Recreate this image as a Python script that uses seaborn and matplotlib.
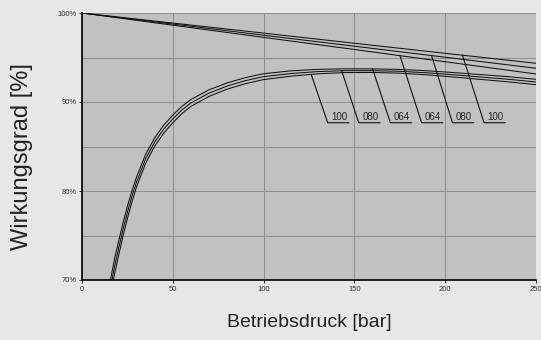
import numpy as np
import pandas as pd
import matplotlib
matplotlib.use("Agg")
import matplotlib.pyplot as plt
import seaborn as sns

# ---------------- data ----------------
# lower curves (rise, peak, slow fall)
P_LOW = [15.5, 16.5, 18, 20, 22.5, 25, 27.5, 30, 35, 40, 45, 50, 55, 60, 70, 80, 90,
         100, 115, 130, 145, 160, 175, 190, 205, 220, 235, 250]
E_LOW_064 = [69.8, 70.9, 72.45, 74.2, 76.35, 78.3, 80.02, 81.56, 84.1, 85.97, 87.4, 88.53,
             89.51, 90.29, 91.37, 92.15, 92.74, 93.18, 93.5, 93.67, 93.73, 93.72,
             93.66, 93.51, 93.3, 93.07, 92.84, 92.55]
E_LOW_080 = [68.9, 70.0, 71.6, 73.4, 75.6, 77.6, 79.4, 81.0, 83.6, 85.5, 86.95, 88.1,
             89.1, 89.9, 91.0, 91.8, 92.4, 92.85, 93.2, 93.42, 93.52, 93.52,
             93.45, 93.28, 93.05, 92.8, 92.55, 92.25]
E_LOW_100 = [68.0, 69.1, 70.75, 72.6, 74.85, 76.9, 78.78, 80.44, 83.1, 85.03, 86.5, 87.67,
             88.69, 89.51, 90.63, 91.45, 92.06, 92.52, 92.9, 93.17, 93.31, 93.32,
             93.24, 93.05, 92.8, 92.53, 92.26, 91.95]

# upper curves (falling from 100 %)
P_UP = [0, 50, 100, 150, 200, 250]
E_UP_100 = [100, 98.87, 97.74, 96.6, 95.47, 94.35]
E_UP_080 = [100, 98.76, 97.5, 96.27, 95.03, 93.79]
E_UP_064 = [100, 98.63, 97.26, 95.9, 94.52, 93.15]

# curve labels: text, curve, anchor pressure on curve, corner pressure
LABELS = ["100", "080", "064", "064", "080", "100"]
LABEL_CURVE = ["low100", "low080", "low064", "up064", "up080", "up100"]
LABEL_ANCHOR_P = [126.2, 143.0, 160.0, 175.1, 192.5, 209.5]
LABEL_CORNER_P = [135.3, 152.4, 169.8, 187.0, 204.0, 221.4]
LABEL_Y = 87.67

X_TICKS = [0, 50, 100, 150, 200, 250]
Y_TICKS = [70, 80, 90, 100]
Y_TICK_LABELS = ["70%", "80%", "90%", "100%"]

# ---------------- build table ----------------
curves = {
    "low064": (P_LOW, E_LOW_064), "low080": (P_LOW, E_LOW_080), "low100": (P_LOW, E_LOW_100),
    "up064": (P_UP, E_UP_064), "up080": (P_UP, E_UP_080), "up100": (P_UP, E_UP_100),
}
rows = []
for name, (ps, es) in curves.items():
    for i, (p, e) in enumerate(zip(ps, es)):
        rows.append({"curve": name, "order": i, "p": p, "eta": e})
df = pd.DataFrame(rows)

# ---------------- figure ----------------
sns.set_theme(style="white")
plt.rcParams["font.family"] = ["Liberation Sans", "DejaVu Sans"]

fig = plt.figure(figsize=(5.41, 3.40), dpi=100, facecolor="#e6e7e9")
ax = fig.add_axes([82 / 541, 1 - 280 / 340, 454 / 541, 267 / 340])
ax.set_facecolor("#c1c1c1")

sns.lineplot(data=df, x="p", y="eta", units="curve", estimator=None, sort=False,
             color="#111111", linewidth=0.75, ax=ax, legend=False)

# leader lines and labels
for lab, cname, pa, pc in zip(LABELS, LABEL_CURVE, LABEL_ANCHOR_P, LABEL_CORNER_P):
    ps, es = curves[cname]
    ya = np.interp(pa, ps, es)
    ax.plot([pa, pc, pc + 11.7], [ya, LABEL_Y, LABEL_Y], color="#111111", lw=0.8,
            solid_joinstyle="miter")
    ax.text(pc + 6.3, LABEL_Y + 0.12, lab, ha="center", va="bottom",
            fontsize=7, color="#222222")

ax.set_xlim(0, 250)
ax.set_ylim(70, 100)
ax.set_xticks(X_TICKS)
ax.set_xticklabels([str(t) for t in X_TICKS])
ax.set_yticks(Y_TICKS)
ax.set_yticklabels(Y_TICK_LABELS)
ax.set_yticks(np.arange(75, 100, 10), minor=True)
ax.grid(True, which="both", axis="y", color="#8e8e8e", lw=0.7)
ax.grid(True, which="major", axis="x", color="#8e8e8e", lw=0.7)
ax.set_axisbelow(True)

ax.tick_params(axis="both", which="major", labelsize=5.5, labelcolor="#333333",
               length=2, width=0.7, color="#333333", pad=2, bottom=True, left=True)
ax.tick_params(axis="y", which="minor", length=0)

for s in ["top", "right"]:
    ax.spines[s].set_visible(False)
for s in ["left", "bottom"]:
    ax.spines[s].set_color("black")
    ax.spines[s].set_linewidth(1.2)

ax.set_xlabel("Betriebsdruck [bar]", fontsize=14, color="#222222")
ax.set_ylabel("Wirkungsgrad [%]", fontsize=17, color="#222222")
ax.xaxis.set_label_coords(0.501, -0.127)
ax.yaxis.set_label_coords(-0.108, 0.464)

fig.savefig("out.png", dpi=100, facecolor=fig.get_facecolor())
